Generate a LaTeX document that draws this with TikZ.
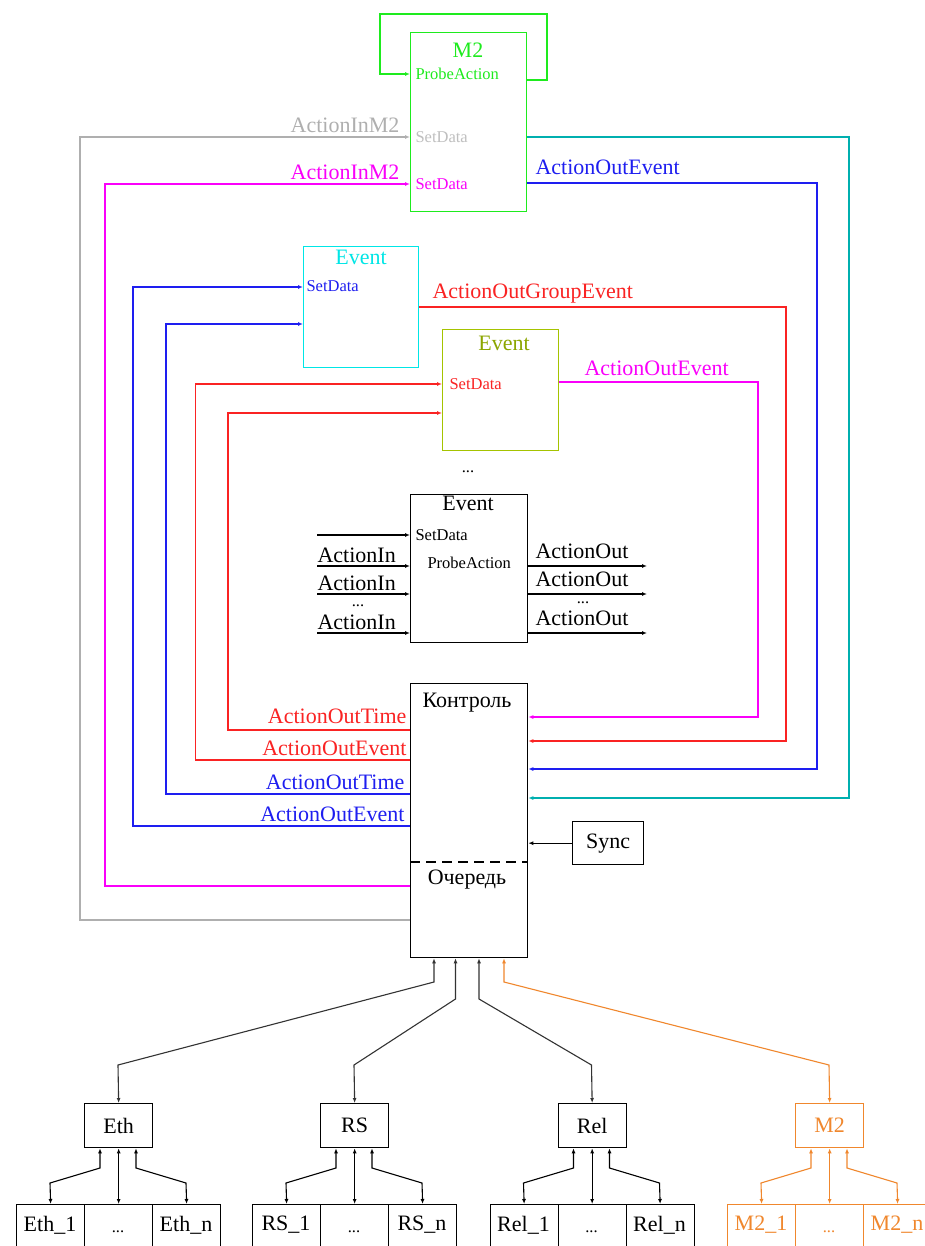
\documentclass[tikz,border=0pt]{standalone}
\usepackage{fontspec}
\setmainfont{Liberation Serif}
\usetikzlibrary{arrows.meta}
\definecolor{cgreen}{RGB}{30,235,30}
\definecolor{ccyan}{RGB}{0,230,230}
\definecolor{colive}{RGB}{165,195,0}
\definecolor{cblue}{RGB}{30,30,240}
\definecolor{cred}{RGB}{250,35,35}
\definecolor{cmag}{RGB}{250,0,250}
\definecolor{cteal}{RGB}{0,175,175}
\definecolor{cgray}{RGB}{175,175,175}
\definecolor{corange}{RGB}{240,135,45}
\begin{document}
\begin{tikzpicture}[x=1pt,y=-1pt,line width=1.1pt,
  blk/.style={draw,rectangle,inner sep=0pt,anchor=north west,line width=1.3pt},
  big/.style={font=\fontsize{22}{24}\selectfont,inner sep=0pt},
  sml/.style={font=\fontsize{16.5}{18}\selectfont,inner sep=0pt},
  arr/.style={-{Latex[open,length=5pt,width=4pt]}},
  barr/.style={{Latex[open,length=5pt,width=4pt]}-{Latex[open,length=5pt,width=4pt]}}]
\useasboundingbox (0,0) rectangle (925,1246);
\fill[white] (0,0) rectangle (925,1246);

% ---------- boxes ----------
\node[blk,draw=cgreen,minimum width=116pt,minimum height=179pt] (m2) at (410,32) {};
\node[blk,draw=ccyan,minimum width=115pt,minimum height=121pt] (ev1) at (303,246) {};
\node[blk,draw=colive,minimum width=116pt,minimum height=121pt] (ev2) at (442,329) {};
\node[blk,minimum width=117pt,minimum height=148pt] (ev3) at (410,494) {};
\node[blk,minimum width=117pt,minimum height=274pt] (ctrl) at (410,683) {};
\node[blk,minimum width=71pt,minimum height=43pt] (sync) at (572,821) {};
\node[big] (synct) at (sync.center) {Sync};

% ---------- texts in boxes ----------
\node[big,text=cgreen] (m2t) at (468,50) {M2};
\node[sml,text=cgreen,anchor=west] (m2p) at (415,74) {ProbeAction};
\node[sml,text=cgray!80,anchor=west] (m2s1) at (415,137) {SetData};
\node[sml,text=cmag,anchor=west] (m2s2) at (415,184) {SetData};

\node[big,text=ccyan] (ev1t) at (361,257) {Event};
\node[sml,text=cblue,anchor=west] (ev1s) at (306,286) {SetData};

\node[big,text=colive!85!black] (ev2t) at (504,343) {Event};
\node[sml,text=cred,anchor=west] (ev2s) at (449,384) {SetData};

\node[sml] (dots0) at (468,472) {...};
\node[big] (ev3t) at (468,503) {Event};
\node[sml,anchor=west] (ev3s) at (415,535) {SetData};
\node[sml,anchor=west] (ev3p) at (427,563) {ProbeAction};

\node[big] (ctrlt) at (467,703) {Контроль};
\node[big] (queue) at (467,880) {Очередь};
\draw[dash pattern=on 10pt off 6pt] (ctrl.west |- 0,862) -- (ctrl.east |- 0,862);

% ---------- M2 self loop ----------
\draw[cgreen,arr] (m2.east |- 0,80) -- (547,80) -- (547,14) -- (380,14) -- (380,74) -- (m2.west |- 0,74);

% ---------- left connectors ----------
\draw[cgray,arr] (ctrl.west |- 0,920) -- (80,920) -- (80,137) -- (m2.west |- 0,137);
\node[big,text=cgray,anchor=east] (lg) at (400,125) {ActionInM2};
\draw[cmag,arr] (ctrl.west |- 0,886) -- (105,886) -- (105,184) -- (m2.west |- 0,184);
\node[big,text=cmag,anchor=east] (lm) at (400,172) {ActionInM2};

\draw[cred,arr] (ctrl.west |- 0,730) -- (228,730) -- (228,413) -- (ev2.west |- 0,413);
\node[big,text=cred,anchor=east] (l1) at (407,716) {ActionOutTime};
\draw[cred,arr] (ctrl.west |- 0,760) -- (195.5,760) -- (195.5,384) -- (ev2.west |- 0,384);
\node[big,text=cred,anchor=east] (l2) at (407,748) {ActionOutEvent};
\draw[cblue,arr] (ctrl.west |- 0,794) -- (166,794) -- (166,324) -- (ev1.west |- 0,324);
\node[big,text=cblue,anchor=east] (l3) at (405,782) {ActionOutTime};
\draw[cblue,arr] (ctrl.west |- 0,826) -- (133,826) -- (133,287) -- (ev1.west |- 0,287);
\node[big,text=cblue,anchor=east] (l4) at (405,814) {ActionOutEvent};

% ---------- right connectors ----------
\draw[cteal,arr] (m2.east |- 0,137) -- (849,137) -- (849,798) -- (ctrl.east |- 0,798);
\draw[cblue,arr] (m2.east |- 0,183) -- (817,183) -- (817,769) -- (ctrl.east |- 0,769);
\node[big,text=cblue,anchor=west] (r1) at (535,167) {ActionOutEvent};
\draw[cred,arr] (ev1.east |- 0,307) -- (786,307) -- (786,741) -- (ctrl.east |- 0,741);
\node[big,text=cred,anchor=west] (r2) at (432,294) {ActionOutGroupEvent};
\draw[cmag,arr] (ev2.east |- 0,382) -- (758,382) -- (758,717) -- (ctrl.east |- 0,717);
\node[big,text=cmag,anchor=west] (r3) at (584,368) {ActionOutEvent};
\draw[arr] (sync.west) -- (ctrl.east |- sync.west);

% ---------- generic Event ports ----------
\coordinate (i0) at (317,535);
\coordinate (i1) at (317,566);
\coordinate (i2) at (317,594);
\coordinate (i3) at (317,633);
\coordinate (o1) at (647,566);
\coordinate (o2) at (647,594);
\coordinate (o3) at (647,633);
\draw[arr] (i0) -- (ev3.west |- i0);
\draw[arr] (i1) -- (ev3.west |- i1);
\draw[arr] (i2) -- (ev3.west |- i2);
\draw[arr] (i3) -- (ev3.west |- i3);
\node[big,anchor=west] (ai1) at (317,555) {ActionIn};
\node[big,anchor=west] (ai2) at (317,583) {ActionIn};
\node[sml] (aid) at (358,606) {...};
\node[big,anchor=west] (ai3) at (317,622) {ActionIn};
\draw[arr] (ev3.east |- o1) -- (o1);
\draw[arr] (ev3.east |- o2) -- (o2);
\draw[arr] (ev3.east |- o3) -- (o3);
\node[big,anchor=west] (ao1) at (535,551) {ActionOut};
\node[big,anchor=west] (ao2) at (535,579) {ActionOut};
\node[sml] (aod) at (583,603) {...};
\node[big,anchor=west] (ao3) at (535,618) {ActionOut};

% ---------- bottom tree ----------
\foreach \n/\x/\c in {eth/118/black,rs/354/black,rel/591.5/black,mb/829/corange}{
  \node[blk,draw=\c,minimum width=68pt,minimum height=44pt] (\n) at (\x-34,1103) {};
}
\node[big] (etht) at (eth.center) {Eth};
\node[big] (rst) at (rs.center) {RS};
\node[big] (relt) at (rel.center) {Rel};
\node[big,text=corange] (mbt) at (mb.center) {M2};

\draw[barr,black!80] (ctrl.south -| 434,0) -- (434,982) -- (118,1065) -- (eth.north);
\draw[barr,black!80] (ctrl.south -| 455.5,0) -- (455.5,999) -- (354,1065) -- (rs.north);
\draw[barr,black!80] (ctrl.south -| 479,0) -- (479,999) -- (591.5,1065) -- (rel.north);
\draw[barr,corange] (ctrl.south -| 504,0) -- (504,982) -- (829,1065) -- (mb.north);

\foreach \n/\x/\c/\a in {eth/118/black/Eth,rs/354/black/RS,rel/591.5/black/Rel,mb/829/corange/M2}{
  \node[blk,draw=\c,minimum width=68pt,minimum height=90pt] (\n L) at (\x-102,1204) {};
  \node[blk,draw=\c,minimum width=68pt,minimum height=90pt] (\n M) at (\x-34,1204) {};
  \node[blk,draw=\c,minimum width=68pt,minimum height=90pt] (\n R) at (\x+34,1204) {};
  \node[big,text=\c] (\n Lt) at (\x-68,1225) {\a\_1};
  \node[sml,text=\c] (\n Mt) at (\x,1232) {...};
  \node[big,text=\c] (\n Rt) at (\x+68,1225) {\a\_n};
  \draw[barr,\c] (\n.south -| \x-18,0) -- (\x-18,1168) -- (\x-68,1183) -- (\n L.north);
  \draw[barr,\c] (\n.south) -- (\n M.north);
  \draw[barr,\c] (\n.south -| \x+18,0) -- (\x+18,1168) -- (\x+68,1183) -- (\n R.north);
}
\end{tikzpicture}
\end{document}
